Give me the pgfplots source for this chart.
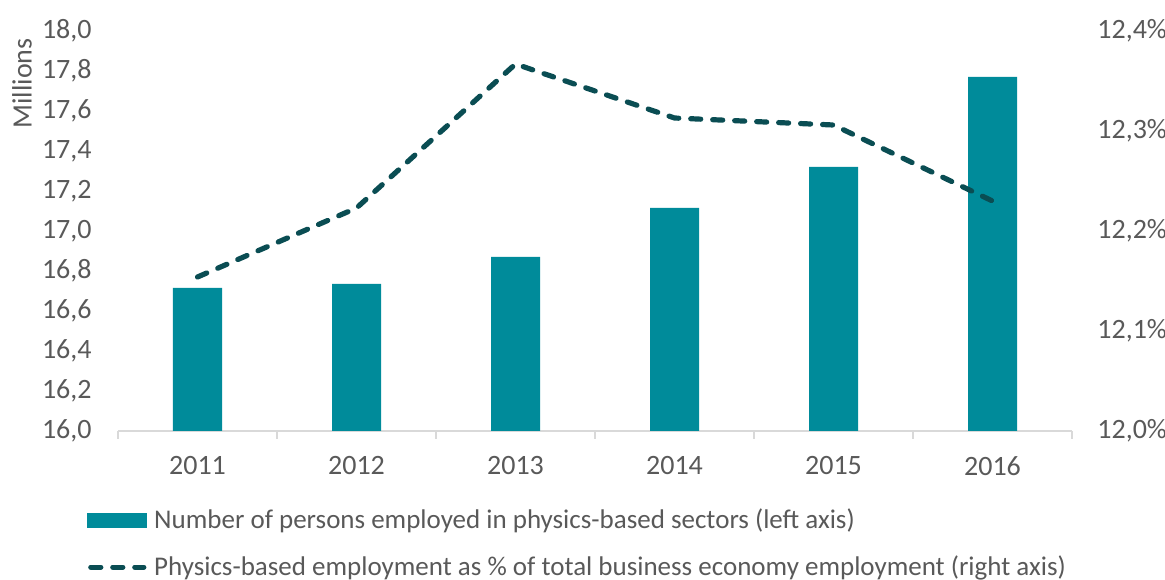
\documentclass[border=0pt]{standalone}
\usepackage{pgfplots}
\pgfplotsset{compat=1.18}
\usepackage{fontspec}
\setmainfont{Carlito}
\definecolor{barc}{HTML}{008B9A}
\definecolor{linec}{HTML}{0A4D53}
\definecolor{txt}{HTML}{595959}
\definecolor{axc}{HTML}{D9D9D9}
\begin{document}
\begin{tikzpicture}
\useasboundingbox (0bp,0bp) rectangle (582.5bp,290bp);
\begin{axis}[at={(59bp,74.5bp)}, anchor=south west, width=477bp, height=200bp, scale only axis,
  xmin=-0.5, xmax=5.5, ymin=16, ymax=18,
  axis x line*=bottom, axis y line*=left,
  y axis line style={draw=none},
  x axis line style={draw=axc, line width=1bp, -},
  xtick={0,...,5}, xticklabels={2011,2012,2013,2014,2015,2016},
  xtick style={draw=none},
  extra x ticks={-0.5,0.5,1.5,2.5,3.5,4.5,5.5},
  extra x tick labels={},
  extra x tick style={xtick style={draw=axc, line width=1bp}, major tick length=4bp, tick align=outside},
  ytick={16,16.2,...,18.01},
  ytick style={draw=none},
  major tick length=0pt,
  yticklabel={\pgfmathprintnumber[fixed, fixed zerofill, precision=1, use comma]{\tick}},
  yticklabel style={font=\fontsize{14bp}{16bp}\selectfont, text=txt, anchor=east, inner sep=0pt, xshift=-13bp},
  xticklabel style={font=\fontsize{14bp}{16bp}\selectfont, text=txt, anchor=north, inner sep=0pt, yshift=-12.5bp},
  /pgf/number format/assume math mode=true,
  clip=false,
]
\addplot[ybar, bar width=24.5bp, fill=barc, draw=none] coordinates {
 (0,16.715) (1,16.735) (2,16.87) (3,17.115) (4,17.32) (5,17.77)};
\end{axis}
\begin{axis}[at={(59bp,74.5bp)}, anchor=south west, width=477bp, height=200bp, scale only axis,
  xmin=-0.5, xmax=5.5, ymin=12, ymax=12.4,
  axis y line*=right, axis x line=none,
  y axis line style={draw=none},
  ytick={12,12.1,12.2,12.3,12.4},
  ytick style={draw=none},
  major tick length=0pt,
  yticklabel={\pgfmathprintnumber[fixed, fixed zerofill, precision=1, use comma]{\tick}\%},
  yticklabel style={font=\fontsize{14bp}{16bp}\selectfont, text=txt, anchor=west, inner sep=0pt, xshift=12.5bp},
  /pgf/number format/assume math mode=true,
  clip=false,
  legend style={at={(-0.0325,-0.194)}, anchor=north west, draw=none, fill=none,
    font=\fontsize{13.5bp}{15.5bp}\selectfont, text=txt, cells={anchor=west},
    row sep=12.0bp, inner sep=0pt, nodes={inner sep=0pt}},
  legend cell align=left,
]
\addlegendimage{legend image code/.code={\fill[barc] (0bp,-3.5bp) rectangle (29.5bp,3.5bp);}}
\addlegendentry{\hspace{3.5bp}Number of persons employed in physics-based sectors (left axis)}
\addplot[linec, line width=2.6bp, line cap=round, dash pattern=on 5bp off 6bp,
  legend image code/.code={\draw[linec, line width=2.6bp, line cap=round, dash pattern=on 5bp off 6bp] (1.5bp,0) -- (28bp,0);}]
 coordinates {(0,12.154) (1,12.223) (2,12.367) (3,12.313) (4,12.306) (5,12.230)};
\addlegendentry{\hspace{3.5bp}Physics-based employment as \% of total business economy employment (right axis)}
\end{axis}
\node[rotate=90, anchor=east, inner sep=0pt, text=txt, font=\fontsize{14bp}{16bp}\selectfont] at (11bp,271bp) {Millions};
\end{tikzpicture}
\end{document}
